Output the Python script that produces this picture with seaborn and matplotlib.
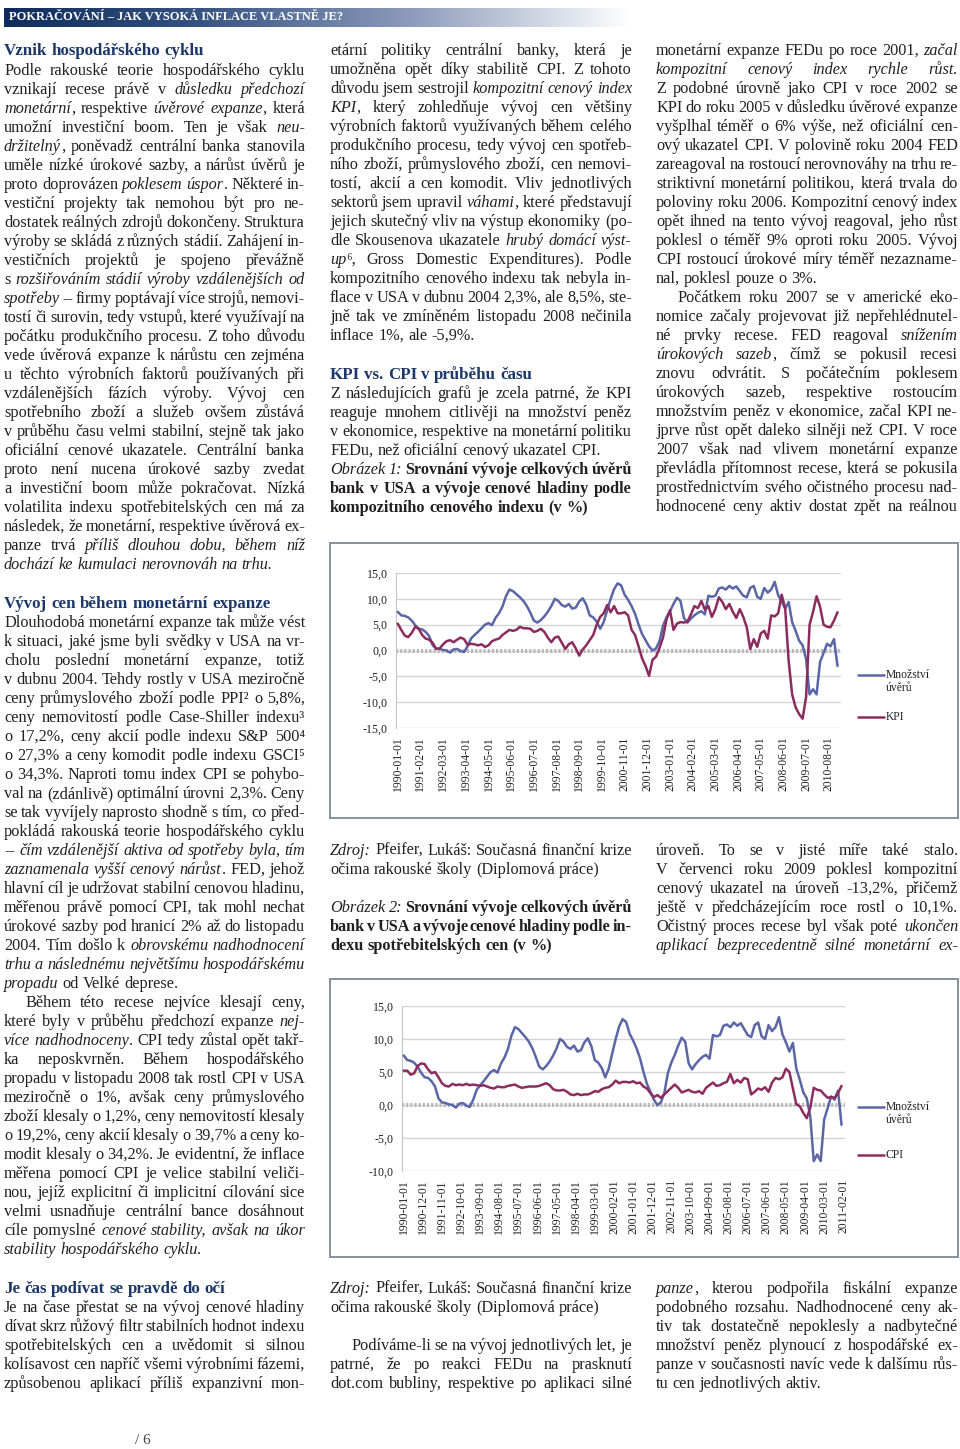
"""Page recreation: 'Jak vysoká inflace vlastně je' - credit vs. KPI / CPI charts."""

import matplotlib
matplotlib.use('Agg')
import matplotlib.pyplot as plt
from matplotlib.colors import LinearSegmentedColormap
from matplotlib.lines import Line2D
from matplotlib.patches import Rectangle
import seaborn as sns
import numpy as np
import pandas as pd

# --- chart data (every second month from 1990-01) ---
months = np.arange(0, 253, 2)

credit = [7.5, 6.8, 6.7, 6.4, 5.8, 4.9, 4.2, 4.1, 3.6, 2.8, 1.0, 0.4,
          0.3, 0.1, 0.0, -0.4, 0.2, 0.3, -0.1, -0.3, 0.8, 2.3, 3.0, 3.6,
          4.3, 5.0, 5.3, 4.9, 6.3, 7.2, 8.5, 10.5, 11.8, 11.5, 10.9, 10.3,
          9.6, 8.6, 7.3, 5.8, 5.4, 5.9, 6.6, 7.5, 8.6, 10.0, 9.6, 8.8,
          8.5, 9.0, 8.1, 8.3, 9.5, 10.1, 8.9, 6.8, 6.4, 5.6, 4.2, 5.5,
          7.8, 10.0, 11.9, 13.0, 12.6, 10.8, 9.8, 8.6, 7.1, 5.0, 3.2, 2.0,
          0.8, 0.0, 0.4, 1.8, 4.8, 6.4, 7.6, 9.0, 10.2, 9.6, 6.3, 5.4,
          6.2, 6.8, 7.3, 7.6, 7.0, 10.6, 10.4, 10.6, 12.0, 12.2, 11.8, 12.5,
          12.0, 12.4, 11.5, 10.6, 10.3, 12.1, 12.5, 10.4, 10.0, 12.1, 11.2, 11.8,
          13.3, 10.7, 9.5, 8.1, 9.4, 5.5, 3.8, 1.9, 1.0, -1.7, -8.5, -7.5,
          -8.5, -2.2, -0.5, 1.3, 0.8, 2.2, -3.0]

kpi = [5.2, 4.0, 2.9, 2.6, 3.4, 4.6, 4.2, 3.0, 2.3, 2.1, 1.5, 0.3,
       0.4, 1.2, 1.8, 2.0, 1.6, 2.1, 2.5, 2.2, 1.1, 1.3, 1.2, 1.0,
       1.2, 0.7, 1.0, 1.8, 2.1, 2.3, 3.0, 3.5, 4.0, 3.8, 4.0, 4.6,
       4.3, 4.3, 4.2, 3.6, 3.8, 4.2, 3.6, 2.5, 1.6, 2.5, 2.7, 1.5,
       0.3, 1.2, 1.6, 0.4, -1.0, 0.2, 1.0, 2.0, 3.0, 5.0, 6.5, 7.2,
       8.8, 7.4, 8.6, 7.2, 7.2, 7.4, 6.8, 4.0, 3.0, 0.8, -1.5, -3.0,
       -4.9, -1.8, -1.2, 0.5, 2.5, 6.0, 7.8, 4.0, 5.2, 5.5, 5.4, 5.6,
       7.0, 8.6, 8.2, 9.6, 7.9, 8.6, 6.5, 8.0, 10.3, 9.4, 8.0, 9.0,
       7.5, 6.3, 8.0, 6.5, 4.5, 0.3, 2.2, 0.7, 3.3, 3.8, 2.3, 6.8,
       6.6, 7.2, 10.8, 8.2, -2.0, -8.5, -11.0, -12.3, -13.2, -9.0, 5.0, 7.5,
       10.5, 8.5, 5.0, 4.6, 4.5, 5.8, 7.4]

cpi = [5.2, 5.2, 4.6, 4.8, 5.9, 6.3, 6.2, 5.4, 4.8, 5.0, 4.2, 3.3,
       2.9, 2.8, 3.2, 3.0, 3.1, 3.0, 3.2, 3.0, 3.1, 3.0, 2.9, 3.0,
       2.8, 2.6, 2.5, 2.8, 2.7, 2.7, 2.9, 3.0, 3.1, 2.8, 2.6, 2.7,
       2.8, 2.8, 2.8, 2.9, 3.1, 3.3, 3.0, 2.4, 2.2, 2.2, 2.3, 2.0,
       1.6, 1.5, 1.7, 1.5, 1.6, 1.6, 1.8, 2.1, 2.0, 2.4, 2.6, 2.7,
       3.1, 3.7, 3.3, 3.5, 3.5, 3.4, 3.6, 3.3, 3.4, 2.8, 2.5, 1.8,
       1.2, 1.5, 1.1, 1.6, 2.1, 2.6, 3.1, 2.6, 1.9, 2.1, 2.3, 2.0,
       1.9, 2.1, 1.7, 2.6, 3.0, 3.4, 2.9, 3.0, 3.3, 3.5, 4.7, 3.3,
       3.8, 3.4, 4.1, 3.9, 1.6, 2.0, 2.5, 2.3, 2.7, 2.0, 3.4, 4.1,
       3.9, 4.2, 5.5, 5.0, 2.5, 0.1, -0.2, -1.2, -2.0, -0.4, 2.6, 2.3,
       2.2, 1.6, 1.1, 1.2, 1.1, 1.8, 2.9]

month_labels = pd.date_range('1990-01-01', periods=254, freq='MS').strftime('%Y-%m-%d').tolist()

# --- page text (* = italic toggle, # = bold toggle, $ = last line, > = indent) ---
header = "POKRAČOVÁNÍ – JAK VYSOKÁ INFLACE VLASTNĚ JE?"

col1_head1 = "Vznik hospodářského cyklu"
col1_p1 = [
    "Podle rakouské teorie hospodářského cyklu",
    "vznikají recese právě v *důsledku předchozí*",
    "*monetární*, respektive *úvěrové expanze*, která",
    "umožní investiční boom. Ten je však *neu-*",
    "*držitelný*, poněvadž centrální banka stanovila",
    "uměle nízké úrokové sazby, a nárůst úvěrů je",
    "proto doprovázen *poklesem úspor*. Některé in-",
    "vestiční projekty tak nemohou být pro ne-",
    "dostatek reálných zdrojů dokončeny. Struktura",
    "výroby se skládá z různých stádií. Zahájení in-",
    "vestičních projektů je spojeno převážně",
    "s *rozšiřováním stádií výroby vzdálenějších od*",
    "*spotřeby* -- firmy poptávají více strojů, nemovi-",
    "tostí či surovin, tedy vstupů, které využívají na",
    "počátku produkčního procesu. Z toho důvodu",
    "vede úvěrová expanze k nárůstu cen zejména",
    "u těchto výrobních faktorů používaných při",
    "vzdálenějších fázích výroby. Vývoj cen",
    "spotřebního zboží a služeb ovšem zůstává",
    "v průběhu času velmi stabilní, stejně tak jako",
    "oficiální cenové ukazatele. Centrální banka",
    "proto není nucena úrokové sazby zvedat",
    "a investiční boom může pokračovat. Nízká",
    "volatilita indexu spotřebitelských cen má za",
    "následek, že monetární, respektive úvěrová ex-",
    "panze trvá *příliš dlouhou dobu, během níž*",
    "*dochází ke kumulaci nerovnováh na trhu.*$",
]

col1_head2 = "Vývoj cen během monetární expanze"
col1_p2 = [
    "Dlouhodobá monetární expanze tak může vést",
    "k situaci, jaké jsme byli svědky v USA na vr-",
    "cholu poslední monetární expanze, totiž",
    "v dubnu 2004. Tehdy rostly v USA meziročně",
    "ceny průmyslového zboží podle PPI² o 5,8%,",
    "ceny nemovitostí podle Case-Shiller indexu³",
    "o 17,2%, ceny akcií podle indexu S&P 500⁴",
    "o 27,3% a ceny komodit podle indexu GSCI⁵",
    "o 34,3%. Naproti tomu index CPI se pohybo-",
    "val na (zdánlivě) optimální úrovni 2,3%. Ceny",
    "se tak vyvíjely naprosto shodně s tím, co před-",
    "pokládá rakouská teorie hospodářského cyklu",
    "-- *čím vzdálenější aktiva od spotřeby byla, tím*",
    "*zaznamenala vyšší cenový nárůst*. FED, jehož",
    "hlavní cíl je udržovat stabilní cenovou hladinu,",
    "měřenou právě pomocí CPI, tak mohl nechat",
    "úrokové sazby pod hranicí 2% až do listopadu",
    "2004. Tím došlo k *obrovskému nadhodnocení*",
    "*trhu a následnému největšímu hospodářskému*",
    "*propadu* od Velké deprese.$",
    ">Během této recese nejvíce klesají ceny,",
    "které byly v průběhu předchozí expanze *nej-*",
    "*více nadhodnoceny*. CPI tedy zůstal opět takř-",
    "ka neposkvrněn. Během hospodářského",
    "propadu v listopadu 2008 tak rostl CPI v USA",
    "meziročně o 1%, avšak ceny průmyslového",
    "zboží klesaly o 1,2%, ceny nemovitostí klesaly",
    "o 19,2%, ceny akcií klesaly o 39,7% a ceny ko-",
    "modit klesaly o 34,2%. Je evidentní, že inflace",
    "měřena pomocí CPI je velice stabilní veliči-",
    "nou, jejíž explicitní či implicitní cílování sice",
    "velmi usnadňuje centrální bance dosáhnout",
    "cíle pomyslné *cenové stability, avšak na úkor*",
    "*stability hospodářského cyklu.*$",
]

col1_head3 = "Je čas podívat se pravdě do očí"
col1_p3 = [
    "Je na čase přestat se na vývoj cenové hladiny",
    "dívat skrz růžový filtr stabilních hodnot indexu",
    "spotřebitelských cen a uvědomit si silnou",
    "kolísavost cen napříč všemi výrobními fázemi,",
    "způsobenou aplikací příliš expanzivní mon-",
]

col2_p1 = [
    "etární politiky centrální banky, která je",
    "umožněna opět díky stabilitě CPI. Z tohoto",
    "důvodu jsem sestrojil *kompozitní cenový index*",
    "*KPI*, který zohledňuje vývoj cen většiny",
    "výrobních faktorů využívaných během celého",
    "produkčního procesu, tedy vývoj cen spotřeb-",
    "ního zboží, průmyslového zboží, cen nemovi-",
    "tostí, akcií a cen komodit. Vliv jednotlivých",
    "sektorů jsem upravil *váhami*, které představují",
    "jejich skutečný vliv na výstup ekonomiky (po-",
    "dle Skousenova ukazatele *hrubý domácí výst-*",
    "*up*⁶, Gross Domestic Expenditures). Podle",
    "kompozitního cenového indexu tak nebyla in-",
    "flace v USA v dubnu 2004 2,3%, ale 8,5%, ste-",
    "jně tak ve zmíněném listopadu 2008 nečinila",
    "inflace 1%, ale -5,9%.$",
]
col2_head = "KPI vs. CPI v průběhu času"
col2_p2 = [
    "Z následujících grafů je zcela patrné, že KPI",
    "reaguje mnohem citlivěji na množství peněz",
    "v ekonomice, respektive na monetární politiku",
    "FEDu, než oficiální cenový ukazatel CPI.$",
    "*Obrázek 1:* #Srovnání vývoje celkových úvěrů#",
    "#bank v USA a vývoje cenové hladiny podle#",
    "#kompozitního cenového indexu (v %)#$",
]
source = [
    "*Zdroj:* Pfeifer, Lukáš: Současná finanční krize",
    "očima rakouské školy (Diplomová práce)$",
]
caption2 = [
    "*Obrázek 2:* #Srovnání vývoje celkových úvěrů#",
    "#bank v USA a vývoje cenové hladiny podle in-#",
    "#dexu spotřebitelských cen (v %)#$",
]
col2_p3 = [
    ">Podíváme-li se na vývoj jednotlivých let, je",
    "patrné, že po reakci FEDu na prasknutí",
    "dot.com bubliny, respektive po aplikaci silné",
]

col3_p1 = [
    "monetární expanze FEDu po roce 2001, *začal*",
    "*kompozitní cenový index rychle růst.*",
    "Z podobné úrovně jako CPI v roce 2002 se",
    "KPI do roku 2005 v důsledku úvěrové expanze",
    "vyšplhal téměř o 6% výše, než oficiální cen-",
    "ový ukazatel CPI. V polovině roku 2004 FED",
    "zareagoval na rostoucí nerovnováhy na trhu re-",
    "striktivní monetární politikou, která trvala do",
    "poloviny roku 2006. Kompozitní cenový index",
    "opět ihned na tento vývoj reagoval, jeho růst",
    "poklesl o téměř 9% oproti roku 2005. Vývoj",
    "CPI rostoucí úrokové míry téměř nezazname-",
    "nal, poklesl pouze o 3%.$",
    ">Počátkem roku 2007 se v americké eko-",
    "nomice začaly projevovat již nepřehlédnutel-",
    "né prvky recese. FED reagoval *snížením*",
    "*úrokových sazeb*, čímž se pokusil recesi",
    "znovu odvrátit. S počátečním poklesem",
    "úrokových sazeb, respektive rostoucím",
    "množstvím peněz v ekonomice, začal KPI ne-",
    "jprve růst opět daleko silněji než CPI. V roce",
    "2007 však nad vlivem monetární expanze",
    "převládla přítomnost recese, která se pokusila",
    "prostřednictvím svého očistného procesu nad-",
    "hodnocené ceny aktiv dostat zpět na reálnou",
]
col3_p2 = [
    "úroveň. To se v jisté míře také stalo.",
    "V červenci roku 2009 poklesl kompozitní",
    "cenový ukazatel na úroveň -13,2%, přičemž",
    "ještě v předcházejícím roce rostl o 10,1%.",
    "Očistný proces recese byl však poté *ukončen*",
    "*aplikací bezprecedentně silné monetární ex-*",
]
col3_p3 = [
    "*panze*, kterou podpořila fiskální expanze",
    "podobného rozsahu. Nadhodnocené ceny ak-",
    "tiv tak dostatečně nepoklesly a nadbytečné",
    "množství peněz plynoucí z hospodářské ex-",
    "panze v současnosti navíc vede k dalšímu růs-",
    "tu cen jednotlivých aktiv.$",
]

# --- style ---
sns.set_style('white')
SERIF = ['Liberation Serif', 'DejaVu Serif']
plt.rcParams['font.family'] = SERIF
TEXT = '#231f20'
NAVY = '#1c3768'
BLUE = '#5a66a6'
PURPLE = '#8c2c5e'
BODY = 11.7
W, H = 960, 1449

fig = plt.figure(figsize=(W / 100, H / 100), dpi=100, facecolor='white')
renderer = fig.canvas.get_renderer()


def fx(x):
    return x / W


def fy(y):
    return 1 - y / H


def put_line(line, x0, x1, y, size=BODY, color=TEXT, bold=False):
    """Draw one justified line word by word; y is the visual centre in page px."""
    justify = True
    if line.endswith('$'):
        line, justify = line[:-1], False
    if line.startswith('>'):
        line, x0 = line[1:], x0 + 21
    italic = False
    words = []
    for raw in line.split(' '):
        segs, buf = [], ''
        for ch in raw:
            if ch in '*#':
                if buf:
                    segs.append((buf, italic, bold))
                    buf = ''
                if ch == '*':
                    italic = not italic
                else:
                    bold = not bold
            else:
                buf += ch
        if buf:
            segs.append((buf, italic, bold))
        if segs:
            words.append(segs)

    placed, total = [], 0
    for segs in words:
        items = []
        for txt, it, bd in segs:
            t = fig.text(0, fy(y + 5), txt, fontsize=size, family=SERIF, color=color,
                         style='italic' if it else 'normal',
                         weight='bold' if bd else 'normal', va='baseline')
            w = t.get_window_extent(renderer).width
            items.append((t, w))
            total += w
        placed.append(items)

    gap = size * 100 / 72 * 0.25
    if justify and len(placed) > 1:
        gap = max((x1 - x0 - total) / (len(placed) - 1), 1.5)
    x = x0
    for items in placed:
        for t, w in items:
            t.set_x(fx(x))
            x += w
        x += gap


def put_block(lines, x0, x1, y0, step=19, **kw):
    for i, line in enumerate(lines):
        put_line(line, x0, x1, y0 + i * step, **kw)


def heading(txt, x0, y):
    put_line(txt + '$', x0, x0 + 300, y, size=12.2, color=NAVY, bold=True)


def line_chart(frame, plot, other, other_name, tick_step, ylim, yticks, legend_y):
    fl, ft, fr, fb = frame
    fig.add_artist(Rectangle((fx(fl), fy(fb)), (fr - fl) / W, (fb - ft) / H,
                             fill=False, ec='#7b8894', lw=1.3))
    l, t, r, b = plot
    ax = fig.add_axes([fx(l), fy(b), (r - l) / W, (b - t) / H])
    df = pd.DataFrame({
        'month': np.concatenate([months, months]),
        'value': credit + other,
        'series': ['Množství úvěrů'] * len(months) + [other_name] * len(months),
    })
    sns.lineplot(data=df, x='month', y='value', hue='series',
                 palette={'Množství úvěrů': BLUE, other_name: PURPLE},
                 linewidth=1.8, legend=False, ax=ax, zorder=3)
    ax.set(xlabel='', ylabel='')
    ax.set_xlim(-1, 254)
    ax.set_ylim(*ylim)
    ax.set_yticks(yticks)
    ax.set_yticklabels([f'{v:.1f}'.replace('.', ',') for v in yticks],
                       family=SERIF, fontsize=8.6, color='#222222')
    ticks = list(range(0, 254, tick_step))
    ax.set_xticks(ticks)
    ax.set_xticklabels([month_labels[m] for m in ticks], rotation=90,
                       family=SERIF, fontsize=8.4, color='#222222')
    ax.tick_params(length=0, pad=6)
    ax.grid(axis='y', color='#d4d4d4', lw=1)
    ax.grid(axis='x', visible=False)
    for s in ['top', 'right', 'bottom']:
        ax.spines[s].set_visible(False)
    ax.spines['left'].set_color('#c4c4c4')
    ax.axhline(0, color='#b8b8b8', lw=3, ls=(0, (0.5, 0.5)), zorder=2)
    ax.patch.set_alpha(0)

    # legend to the right of the plot
    y1, y2 = legend_y
    for yy, col in [(y1, BLUE), (y2, PURPLE)]:
        fig.add_artist(Line2D([fx(858), fx(884)], [fy(yy), fy(yy)], color=col, lw=1.8))
    lkw = dict(fontsize=8.4, family=SERIF, color='#222222', va='center')
    fig.text(fx(886), fy(y1), 'Množství', **lkw)
    fig.text(fx(886), fy(y1 + 13), 'úvěrů', **lkw)
    fig.text(fx(886), fy(y2), other_name, **lkw)
    return ax


# --- header bar ---
hax = fig.add_axes([fx(4), fy(27), 628 / W, 19 / H])
grad = LinearSegmentedColormap.from_list(
    'bar', [(0, '#0e2c5b'), (0.3, '#34517f'), (0.65, '#8d9cbb'), (1, '#ffffff')])
hax.imshow(np.linspace(0, 1, 256)[None, :], cmap=grad, aspect='auto', extent=[0, 1, 0, 1])
hax.axis('off')
fig.text(fx(9), fy(17), header, fontsize=9, family=SERIF, weight='bold',
         color='white', va='center')

# --- column 1 ---
heading(col1_head1, 4, 50)
put_block(col1_p1, 4, 305, 70)
heading(col1_head2, 4, 603)
put_block(col1_p2, 4, 305, 622)
heading(col1_head3, 4, 1288)
put_block(col1_p3, 4, 305, 1307)

# --- column 2 ---
put_block(col2_p1, 330, 632, 50)
heading(col2_head, 330, 374)
put_block(col2_p2, 330, 632, 393)
put_block(source, 330, 632, 850)
put_block(caption2, 330, 632, 907)
put_block(source, 330, 632, 1288)
put_block(col2_p3, 330, 632, 1345)

# --- column 3 ---
put_block(col3_p1, 656, 958, 50)
put_block(col3_p2, 656, 958, 850)
put_block(col3_p3, 656, 958, 1288)

# --- charts ---
line_chart((330, 543, 958, 818), (396, 573, 841, 728), kpi, 'KPI', 13,
           (-15, 15), [15, 10, 5, 0, -5, -10, -15], (675, 717))
line_chart((330, 979, 958, 1257), (402, 1006, 845, 1171), cpi, 'CPI', 11,
           (-10, 15), [15, 10, 5, 0, -5, -10], (1107, 1155))

fig.text(fx(135), fy(1440), '/ 6', fontsize=11, family=SERIF, color='#444444', va='center')

plt.savefig('out.png', dpi=100, facecolor='white')
